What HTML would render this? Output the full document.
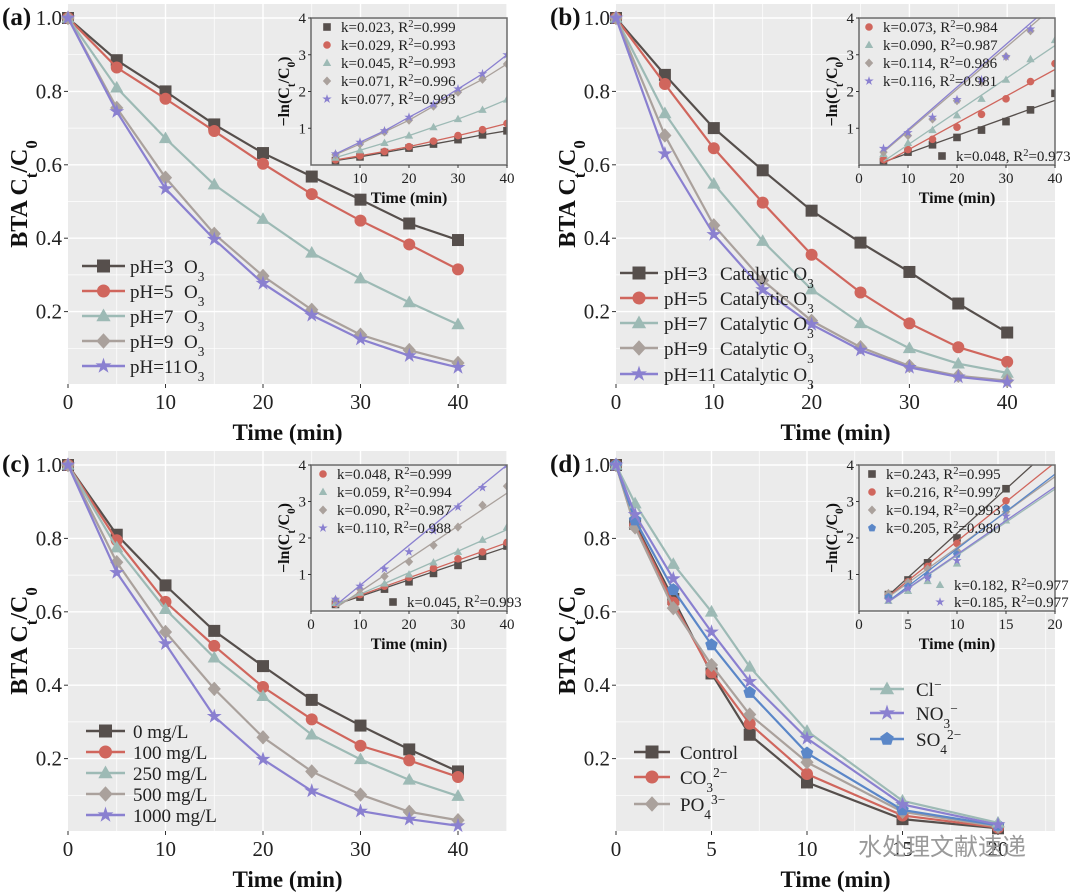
<!DOCTYPE html>
<html><head><meta charset="utf-8">
<style>
html,body{margin:0;padding:0;background:#fff;}
svg{display:block;font-family:"Liberation Serif","Noto Serif CJK SC",serif;}
</style></head>
<body>
<svg id="fig" width="1080" height="892" viewBox="0 0 1080 892" xmlns="http://www.w3.org/2000/svg"></svg>
<script>
// ---------- data ----------
const tA = [0,5,10,15,20,25,30,35,40];
const a_pH3 = [1,.885,.80,.71,.632,.568,.505,.44,.395];
const a_pH5 = [1,.865,.78,.692,.603,.52,.448,.383,.315];
const a_pH7 = [1,.81,.672,.546,.452,.36,.29,.225,.165];
const a_pH9 = [1,.755,.565,.412,.297,.205,.137,.095,.06];
const a_pH11 = [1,.745,.535,.397,.277,.19,.125,.08,.048];
const tInsA = [5,10,15,20,25,30,35,40];
const ai_pH3 = [.12,.22,.34,.46,.57,.69,.82,.93];
const ai_pH5 = [.14,.25,.37,.5,.65,.8,.96,1.13];
const ai_pH7 = [.2,.4,.6,.8,1.03,1.25,1.5,1.78];
const ai_pH9 = [.28,.57,.9,1.22,1.6,1.98,2.33,2.75];
const ai_pH11 = [.3,.62,.93,1.3,1.65,2.07,2.48,3.0];
const a_k = ["0.023","0.029","0.045","0.071","0.077"];
const a_r2 = ["0.999","0.993","0.993","0.996","0.993"];

const b_pH3 = [1,.845,.70,.585,.475,.388,.308,.222,.143];
const b_pH5 = [1,.82,.645,.497,.355,.252,.168,.103,.063];
const b_pH7 = [1,.74,.548,.392,.26,.168,.10,.058,.033];
const b_pH9 = [1,.68,.435,.285,.175,.103,.052,.025,.012];
const b_pH11 = [1,.63,.41,.26,.165,.095,.048,.022,.008];
const bi_pH3 = [.1,.35,.55,.75,.95,1.18,1.5,1.95];
const bi_pH5 = [.15,.42,.7,1.03,1.38,1.8,2.27,2.76];
const bi_pH7 = [.3,.6,.95,1.35,1.8,2.32,2.88,3.4];
const bi_pH9 = [.35,.8,1.25,1.75,2.25,2.95,3.65,4.4];
const bi_pH11 = [.45,.88,1.3,1.78,2.32,2.95,3.7,4.6];
const b_slope = [0.048,0.073,0.090,0.114,0.116];
const b_icpt = [-0.16,-0.32,-0.35,-0.22,-0.2];
const b_k = ["0.048","0.073","0.090","0.114","0.116"];
const b_r2 = ["0.973","0.984","0.987","0.986","0.981"];

const c_0 = [1,.81,.672,.548,.452,.36,.29,.225,.165];
const c_100 = [1,.795,.627,.507,.395,.307,.235,.195,.15];
const c_250 = [1,.775,.607,.475,.37,.265,.198,.142,.098];
const c_500 = [1,.735,.545,.39,.258,.165,.102,.055,.032];
const c_1000 = [1,.707,.513,.315,.198,.112,.057,.035,.017];
const ci_0 = [.18,.38,.6,.8,1.03,1.25,1.5,1.78];
const ci_100 = [.2,.45,.68,.92,1.17,1.43,1.62,1.88];
const ci_250 = [.22,.5,.75,1.0,1.33,1.62,1.95,2.3];
const ci_500 = [.3,.6,.95,1.35,1.8,2.3,2.9,3.42];
const ci_1000 = [.32,.68,1.15,1.62,2.2,2.85,3.38,4.0];
const c_slope = [0.045,0.048,0.059,0.090,0.110];
const c_icpt = [-0.05,-0.05,-0.13,-0.37,-0.4];
const c_k = ["0.045","0.048","0.059","0.090","0.110"];
const c_r2 = ["0.993","0.999","0.994","0.987","0.988"];

const tD = [0,1,3,5,7,10,15,20];
const d_ctrl = [1,.84,.635,.432,.265,.135,.035,.01];
const d_co3 = [1,.835,.625,.435,.295,.158,.045,.012];
const d_po4 = [1,.83,.61,.455,.32,.19,.055,.015];
const d_cl = [1,.895,.73,.6,.45,.275,.085,.025];
const d_no3 = [1,.865,.69,.545,.41,.255,.075,.02];
const d_so4 = [1,.85,.66,.51,.38,.215,.06,.018];
const tInsD = [3,5,7,10,15];
const di_ctrl = [.45,.85,1.32,2.0,3.35];
const di_co3 = [.45,.8,1.22,1.85,3.02];
const di_po4 = [.48,.78,1.15,1.65,2.72];
const di_so4 = [.38,.67,.97,1.55,2.82];
const di_cl = [.28,.55,.82,1.3,2.48];
const di_no3 = [.3,.62,.9,1.38,2.6];
const d_slope = [0.243,0.216,0.194,0.205,0.182,0.185];
const d_icpt = [-0.3,-0.25,-0.2,-0.35,-0.3,-0.3];
const d_k = ["0.243","0.216","0.194","0.205","0.182","0.185"];
const d_r2 = ["0.995","0.997","0.993","0.980","0.977","0.977"];

const mainYTicks = ["0.2","0.4","0.6","0.8","1.0"];
const xTicks40 = [0,10,20,30,40];
const xTicks20 = [0,5,10,15,20];

// ---------- helpers ----------
const NS="http://www.w3.org/2000/svg";
const svg=document.getElementById('fig');
function el(tag,attrs,parent){const e=document.createElementNS(NS,tag);for(const k in attrs)e.setAttribute(k,attrs[k]);(parent||svg).appendChild(e);return e;}
const COL={dark:"#564f4c",red:"#d0665d",teal:"#9dbab5",tan:"#aaa19c",purple:"#8a80d0",blue:"#5b87c8"};

function markerPath(shape,cx,cy,r){
  if(shape==='square') return `M${cx-r},${cy-r}h${2*r}v${2*r}h${-2*r}Z`;
  if(shape==='circle') return `M${cx-r},${cy}a${r},${r} 0 1,0 ${2*r},0a${r},${r} 0 1,0 ${-2*r},0Z`;
  if(shape==='triangle') return `M${cx},${cy-r*1.15}L${cx+r*1.1},${cy+r*0.8}L${cx-r*1.1},${cy+r*0.8}Z`;
  if(shape==='diamond') return `M${cx},${cy-r*1.2}L${cx+r*1.1},${cy}L${cx},${cy+r*1.2}L${cx-r*1.1},${cy}Z`;
  let pts=[];
  if(shape==='star'){for(let i=0;i<10;i++){const a=-Math.PI/2+i*Math.PI/5;const rr=i%2?r*0.5:r*1.3;pts.push((cx+rr*Math.cos(a)).toFixed(1)+','+(cy+rr*Math.sin(a)).toFixed(1));}}
  else {for(let i=0;i<5;i++){const a=-Math.PI/2+i*2*Math.PI/5;pts.push((cx+r*1.1*Math.cos(a)).toFixed(1)+','+(cy+r*1.1*Math.sin(a)).toFixed(1));}}
  return 'M'+pts.join('L')+'Z';
}
function drawMarker(g,shape,cx,cy,r,color){
  const m=el('path',{d:markerPath(shape,cx,cy,r),fill:color},g);
  
  
  return m;
}
function subText(g,x,y,parts,attrs){
  const t=el('text',Object.assign({x:x,y:y},attrs),g);
  parts.forEach(p=>{
    const s=el('tspan',{},t);
    if(p.sub){s.setAttribute('baseline-shift','sub');s.setAttribute('font-size','70%');}
    if(p.sup){s.setAttribute('baseline-shift','super');s.setAttribute('font-size','70%');}
    s.textContent=p.t;
  });
  return t;
}

// ---------- panel ----------
function panel(cfg){
  const g=el('g',{});
  
  
  const X=t=>cfg.x0+t*cfg.sx, Y=v=>cfg.y1+(1-v)*367;
  const left=cfg.x0, right=cfg.x0+439, top=cfg.y1-14, bottom=Y(0)-1;
  const bg=el('rect',{x:left,y:top,width:right-left,height:bottom-top,fill:"#ebebeb"},g);
  
  
  for(let v=0.1;v<1.05;v+=0.1){
    const major=Math.round(v*10)%2===0;
    el('line',{x1:left,x2:right,y1:Y(v),y2:Y(v),stroke:"#fff","stroke-width":major?1.4:0.7},g);
  }
  for(let t=cfg.minor;cfg.x0+t*cfg.sx<right;t+=cfg.minor){
    const major=Math.round(t/cfg.minor)%2===0;
    el('line',{x1:X(t),x2:X(t),y1:top,y2:bottom,stroke:"#fff","stroke-width":major?1.4:0.7},g);
  }
  mainYTicks.forEach(s=>{
    const v=parseFloat(s);
    el('line',{x1:left-4,x2:left,y1:Y(v),y2:Y(v),stroke:"#333","stroke-width":1},g);
    const t=el('text',{x:left-6,y:Y(v)+7,"text-anchor":"end","font-size":21,fill:"#222"},g);
    
    
    t.textContent=s;
  });
  cfg.xticks.forEach(v=>{
    el('line',{x1:X(v),x2:X(v),y1:bottom,y2:bottom+4,stroke:"#333","stroke-width":1},g);
    const t=el('text',{x:X(v),y:bottom+25,"text-anchor":"middle","font-size":21,fill:"#222"},g);
    
    
    t.textContent=v;
  });
  const xt=el('text',{x:(left+right)/2,y:bottom+56,"text-anchor":"middle","font-size":23,"font-weight":"bold",fill:"#111"},g);
  
  
  xt.textContent="Time (min)";
  const yg=el('g',{transform:`translate(${cfg.id==='a'||cfg.id==='c'?27:575},${(top+bottom)/2}) rotate(-90)`},g);
  const yt=subText(yg,0,0,[{t:"BTA C"},{t:"t",sub:1},{t:"/C"},{t:"0",sub:1}],{"text-anchor":"middle","font-size":24,"font-weight":"bold",fill:"#111"});
  
  
  const pl=el('text',{x:cfg.x0-66,y:cfg.y1+7,"font-size":25,"font-weight":"bold",fill:"#111"},g);
  
  
  pl.textContent='('+cfg.id+')';
  cfg.series.forEach(s=>{
    const sg=el('g',{},g);
    
    
    el('polyline',{points:cfg.t.map((t,i)=>X(t)+','+Y(s.v[i])).join(' '),fill:"none",stroke:s.c,"stroke-width":2.2},sg);
    cfg.t.forEach((t,i)=>drawMarker(sg,s.m,X(t),Y(s.v[i]),6,s.c));
  });
  cfg.legends.forEach(L=>{
    L.items.forEach((it,i)=>{
      const lg=el('g',{},g);
      
      
      const y=L.y[i];
      el('line',{x1:L.x1,x2:L.x2,y1:y,y2:y,stroke:it.c,"stroke-width":2.4},lg);
      drawMarker(lg,it.m,(L.x1+L.x2)/2,y,6.5,it.c);
      subText(lg,L.tx,y+7,it.label,{"font-size":19,fill:"#222"});
      if(it.label2) subText(lg,L.tx2,y+7,it.label2,{"font-size":19,fill:"#222"});
    });
  });
  inset(g,cfg.inset);
}

function inset(pg,c){
  const g=el('g',{},pg);
  
  
  const X=t=>c.x0+(t/c.xmax)*(c.x1-c.x0), Y=v=>c.y1-(v/4)*(c.y1-c.y0);
  el('rect',{x:c.x0,y:c.y0,width:c.x1-c.x0,height:c.y1-c.y0,fill:"#ebebeb"},g);
  const cid='clip'+c.x0+'_'+c.y0;
  const cp=el('clipPath',{id:cid},g);
  el('rect',{x:c.x0,y:c.y0,width:c.x1-c.x0,height:c.y1-c.y0},cp);
  const dg=el('g',{"clip-path":`url(#${cid})`},g);
  c.series.forEach((s,i)=>{
    const sg=el('g',{},dg);
    
    
    if(c.fit){
      const ta=c.t[0], tb=c.xmax;
      el('line',{x1:X(ta),y1:Y(c.slope[i]*ta+c.icpt[i]),x2:X(tb),y2:Y(c.slope[i]*tb+c.icpt[i]),stroke:s.c,"stroke-width":1.3},sg);
    } else {
      el('polyline',{points:c.t.map((t,j)=>X(t)+','+Y(s.v[j])).join(' '),fill:"none",stroke:s.c,"stroke-width":1.3},sg);
    }
    c.t.forEach((t,j)=>drawMarker(sg,s.m,X(t),Y(s.v[j]),3.8,s.c));
  });
  el('rect',{x:c.x0,y:c.y0,width:c.x1-c.x0,height:c.y1-c.y0,fill:"none",stroke:"#6b6b6b","stroke-width":1.5},g);
  [1,2,3,4].forEach(v=>{
    el('line',{x1:c.x0-3,x2:c.x0,y1:Y(v),y2:Y(v),stroke:"#333"},g);
    const t=el('text',{x:c.x0-5,y:Y(v)+5,"text-anchor":"end","font-size":15,fill:"#222"},g);
    
    
    t.textContent=v;
  });
  c.xticks.forEach(v=>{
    el('line',{x1:X(v),x2:X(v),y1:c.y1,y2:c.y1+3,stroke:"#333"},g);
    const t=el('text',{x:X(v),y:c.y1+18,"text-anchor":"middle","font-size":15,fill:"#222"},g);
    
    
    t.textContent=v;
  });
  const xt=el('text',{x:(c.x0+c.x1)/2,y:c.y1+38,"text-anchor":"middle","font-size":16,"font-weight":"bold",fill:"#111"},g);
  
  
  xt.textContent="Time (min)";
  const yg=el('g',{transform:`translate(${c.x0-22},${(c.y0+c.y1)/2}) rotate(-90)`},g);
  const yt=subText(yg,0,0,[{t:"\u2212ln(C"},{t:"t",sub:1},{t:"/C"},{t:"0",sub:1},{t:")"}],{"text-anchor":"middle","font-size":16,"font-weight":"bold",fill:"#111"});
  
  
  c.leg.forEach(L=>{
    const lg=el('g',{},g);
    
    
    drawMarker(lg,L.m,L.x,L.y,3.8,L.c);
    subText(lg,L.x+14,L.y+5,[{t:"k="+L.k+", R"},{t:"2",sup:1},{t:"="+L.r}],{"font-size":15,fill:"#222"});
  });
}

const shapes5=['square','circle','triangle','diamond','star'];
const cols5=[COL.dark,COL.red,COL.teal,COL.tan,COL.purple];
const topRows=[27,45,63,81,99];

const aS=[a_pH3,a_pH5,a_pH7,a_pH9,a_pH11], aI=[ai_pH3,ai_pH5,ai_pH7,ai_pH9,ai_pH11];
const pHn=["3","5","7","9","11"];
panel({id:'a',x0:68,sx:9.75,y1:18,minor:5,t:tA,xticks:xTicks40,
  series:aS.map((v,i)=>({name:'pH'+pHn[i],v:v,m:shapes5[i],c:cols5[i]})),
  legends:[{x1:82,x2:125,tx:130,tx2:184,y:[266,291,316,341,366],
    items:pHn.map((p,i)=>({m:shapes5[i],c:cols5[i],label:[{t:"pH="+p}],label2:[{t:"O"},{t:"3",sub:1}]}))}],
  inset:{x0:311,x1:507,y0:18,y1:165,xmax:40,t:tInsA,xticks:[10,20,30,40],fit:false,
    series:aI.map((v,i)=>({v:v,m:shapes5[i],c:cols5[i]})),
    leg:a_k.map((k,i)=>({x:327,y:topRows[i],m:shapes5[i],c:cols5[i],k:k,r:a_r2[i]}))}
});
const bS=[b_pH3,b_pH5,b_pH7,b_pH9,b_pH11], bI=[bi_pH3,bi_pH5,bi_pH7,bi_pH9,bi_pH11];
panel({id:'b',x0:616,sx:9.78,y1:18,minor:5,t:tA,xticks:xTicks40,
  series:bS.map((v,i)=>({name:'pH'+pHn[i],v:v,m:shapes5[i],c:cols5[i]})),
  legends:[{x1:620,x2:658,tx:664,tx2:720,y:[273,298,323,348,374],
    items:pHn.map((p,i)=>({m:shapes5[i],c:cols5[i],label:[{t:"pH="+p}],label2:[{t:"Catalytic O"},{t:"3",sub:1}]}))}],
  inset:{x0:859,x1:1055,y0:18,y1:165,xmax:40,t:tInsA,xticks:xTicks40,fit:true,slope:b_slope,icpt:b_icpt,
    series:bI.map((v,i)=>({v:v,m:shapes5[i],c:cols5[i]})),
    leg:[1,2,3,4].map((i,r)=>({x:869,y:topRows[r],m:shapes5[i],c:cols5[i],k:b_k[i],r:b_r2[i]})).concat([{x:942,y:156,m:'square',c:COL.dark,k:b_k[0],r:b_r2[0]}])}
});
const cS=[c_0,c_100,c_250,c_500,c_1000], cI=[ci_0,ci_100,ci_250,ci_500,ci_1000];
const conc=["0","100","250","500","1000"];
panel({id:'c',x0:68,sx:9.75,y1:465,minor:5,t:tA,xticks:xTicks40,
  series:cS.map((v,i)=>({name:conc[i]+'mgL',v:v,m:shapes5[i],c:cols5[i]})),
  legends:[{x1:86,x2:125,tx:133,y:[731,752,773,794,815],
    items:conc.map((p,i)=>({m:shapes5[i],c:cols5[i],label:[{t:p+" mg/L"}]}))}],
  inset:{x0:311,x1:507,y0:465,y1:611,xmax:40,t:tInsA,xticks:xTicks40,fit:true,slope:c_slope,icpt:c_icpt,
    series:cI.map((v,i)=>({v:v,m:shapes5[i],c:cols5[i]})),
    leg:[1,2,3,4].map((i,r)=>({x:323,y:topRows[r]+447,m:shapes5[i],c:cols5[i],k:c_k[i],r:c_r2[i]})).concat([{x:393,y:602,m:'square',c:COL.dark,k:c_k[0],r:c_r2[0]}])}
});
const dShapes=['square','circle','diamond','pentagon','triangle','star'];
const dCols=[COL.dark,COL.red,COL.tan,COL.blue,COL.teal,COL.purple];
const dS=[d_ctrl,d_co3,d_po4,d_so4,d_cl,d_no3], dI=[di_ctrl,di_co3,di_po4,di_so4,di_cl,di_no3];
const dNames=['control','co3','po4','so4','cl','no3'];
panel({id:'d',x0:616,sx:19.1,y1:465,minor:2.5,t:tD,xticks:xTicks20,
  series:dS.map((v,i)=>({name:dNames[i],v:v,m:dShapes[i],c:dCols[i]})),
  legends:[
   {x1:634,x2:670,tx:680,y:[752,777,804],items:[
     {m:'square',c:COL.dark,label:[{t:"Control"}]},
     {m:'circle',c:COL.red,label:[{t:"CO"},{t:"3",sub:1},{t:"2\u2212",sup:1}]},
     {m:'diamond',c:COL.tan,label:[{t:"PO"},{t:"4",sub:1},{t:"3\u2212",sup:1}]}]},
   {x1:870,x2:904,tx:916,y:[689,713,739],items:[
     {m:'triangle',c:COL.teal,label:[{t:"Cl"},{t:"\u2212",sup:1}]},
     {m:'star',c:COL.purple,label:[{t:"NO"},{t:"3",sub:1},{t:"\u2212",sup:1}]},
     {m:'pentagon',c:COL.blue,label:[{t:"SO"},{t:"4",sub:1},{t:"2\u2212",sup:1}]}]}],
  inset:{x0:859,x1:1055,y0:465,y1:611,xmax:20,t:tInsD,xticks:xTicks20,fit:true,slope:d_slope,icpt:d_icpt,
    series:dI.map((v,i)=>({v:v,m:dShapes[i],c:dCols[i]})),
    leg:[0,1,2,3].map(i=>({x:872,y:topRows[i]+447,m:dShapes[i],c:dCols[i],k:d_k[i],r:d_r2[i]}))
      .concat([{x:940,y:585,m:'triangle',c:COL.teal,k:d_k[4],r:d_r2[4]},{x:940,y:602,m:'star',c:COL.purple,k:d_k[5],r:d_r2[5]}])}
});
const wm=el('text',{x:858,y:855,"font-size":24,fill:"#9a9a9a","font-family":"'Noto Sans CJK SC',sans-serif"});


wm.textContent="\u6c34\u5904\u7406\u6587\u732e\u901f\u9012";
</script>
</body></html>
